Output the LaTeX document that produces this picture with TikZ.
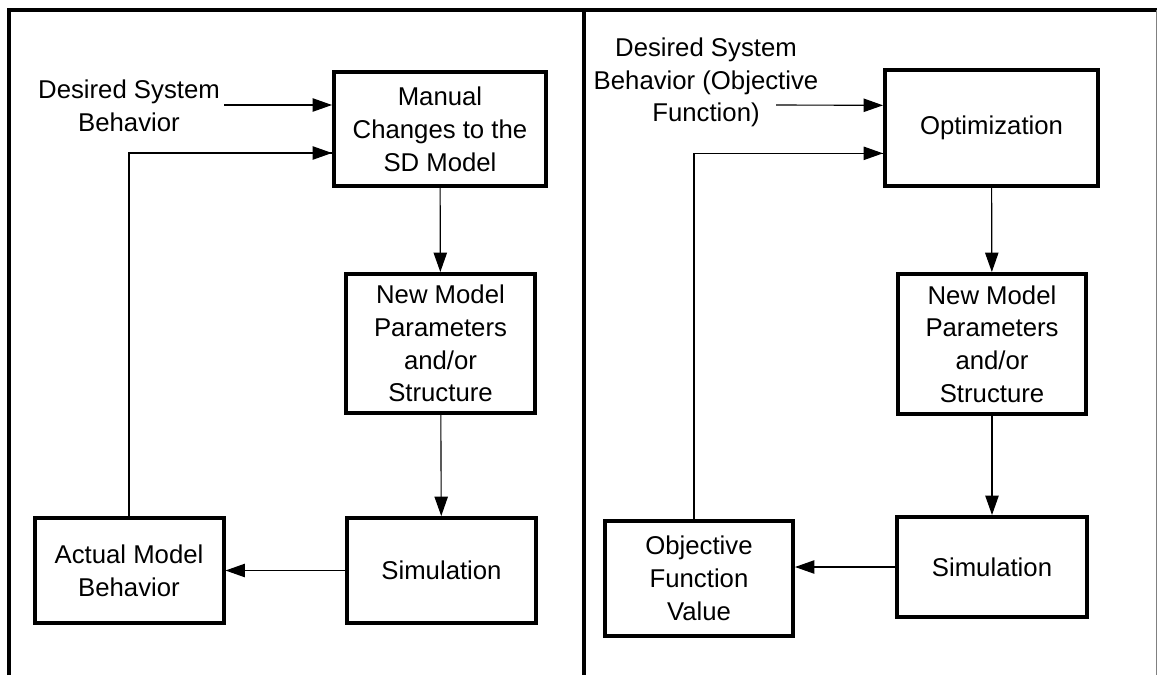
\documentclass[tikz,border=0pt]{standalone}
\usepackage{fontspec}
\setmainfont{Liberation Sans}
\usetikzlibrary{arrows.meta}
\begin{document}
\begin{tikzpicture}[x=0.75pt,y=-0.75pt,
  every node/.style={font=\fontsize{19.3}{24.6}\selectfont, align=center},
  block/.style={draw, line width=3pt, inner sep=0pt},
  wd/.style={minimum width={#1*0.75pt}},
  ht/.style={minimum height={#1*0.75pt}},
  label/.style={inner sep=3pt},
  frameline/.style={line width=3pt, line join=miter},
  flow/.style={line width=0.85pt, -{Triangle[length=14.5pt,width=10pt]}},
  plain/.style={line width=0.85pt}]
\useasboundingbox (0,0) rectangle (1157,675);

% outer frame and panel divider
\draw[frameline] (9,675) -- (9,10) -- (1157,10);
\draw[line width=2.4pt] (584,10) -- (584,675);
\draw[gray, line width=0.6pt] (1156,10) -- (1156,675);

% ---- left panel: manual tuning loop ----
\node[block, wd=212, ht=114] (man) at (440,129)
  {Manual\\Changes to the\\SD Model};
\node[block, wd=189, ht=139] (newl) at (440.5,343.5)
  {New Model\\Parameters\\and/or\\Structure};
\node[block, wd=189, ht=105] (siml) at (441.5,570.5)
  {Simulation};
\node[block, wd=189, ht=105] (act) at (129,570.5)
  {Actual Model\\Behavior};
\node[label] (desl) at (129,105.5) {Desired System\\Behavior};

\coordinate (manA) at ([yshift=18pt]man.west);
\coordinate (manB) at ([yshift=-18pt]man.west);
\draw[flow] (desl.east |- manA) -- (manA);
\draw[flow] (man) -- (newl);
\draw[flow] (newl) -- (siml);
\draw[flow] (siml.west) -- (siml.west -| act.east);
\draw[plain] (act.north) |- (manB);
\draw[flow] ([xshift=-2pt]manB) -- (manB);

% ---- right panel: optimisation loop ----
\node[block, wd=213, ht=116] (opt) at (991.5,128)
  {Optimization};
\node[block, wd=188, ht=140] (newr) at (992,344)
  {New Model\\Parameters\\and/or\\Structure};
\node[block, wd=190, ht=100] (simr) at (992,567)
  {Simulation};
\node[block, wd=188, ht=115] (obj) at (699,578.5)
  {Objective\\Function\\Value};
\node[label] (desr) at (706,82.5) {Desired System\\Behavior (Objective\\Function)};

\coordinate (optA) at ([yshift=17pt]opt.west);
\coordinate (optB) at ([yshift=-19pt]opt.west);
\coordinate (desrout) at (776,105);
\coordinate (objtop) at (694,519);
\draw[flow] (desrout) -- (optA);
\draw[flow] (opt) -- (newr);
\draw[flow] (newr) -- (simr);
\draw[flow] (simr.west) -- (simr.west -| obj.east);
\draw[plain] (objtop) |- (optB);
\draw[flow] ([xshift=-2pt]optB) -- (optB);
\end{tikzpicture}
\end{document}
